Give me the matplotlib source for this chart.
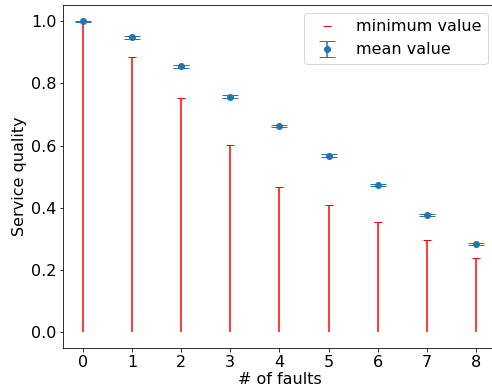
import numpy as np
import matplotlib
matplotlib.use('Agg')
import matplotlib.pyplot as plt

faults = [0, 1, 2, 3, 4, 5, 6, 7, 8]
mean_quality = [1.0, 0.948, 0.855, 0.758, 0.663, 0.568, 0.473, 0.377, 0.283]
mean_err = [0.002, 0.004, 0.004, 0.004, 0.004, 0.004, 0.004, 0.004, 0.003]
min_quality = [1.0, 0.886, 0.752, 0.603, 0.468, 0.41, 0.355, 0.296, 0.24]

plt.rc('font', size=16)

dpi = 72
fig, ax = plt.subplots(figsize=(492 / dpi, 391 / dpi), dpi=dpi)

ax.vlines(faults, 0, min_quality, colors='r', linewidth=1.5)
ax.plot(faults, min_quality, 'r_', markersize=8, label='minimum value')
ax.errorbar(faults, mean_quality, yerr=mean_err, fmt='o', markersize=6,
            capsize=8, label='mean value')

ax.set_xticks(faults)
ax.set_yticks(np.linspace(0, 1, 6))
ax.set_xlabel('# of faults', labelpad=2)
ax.set_ylabel('Service quality')
ax.legend(loc='upper right')

# right spine falls just outside the picture, as in the original
fig.subplots_adjust(left=63.3 / 492, right=495.5 / 492,
                    top=1 - 5 / 391, bottom=43 / 391)
fig.savefig('out.png', dpi=dpi)
